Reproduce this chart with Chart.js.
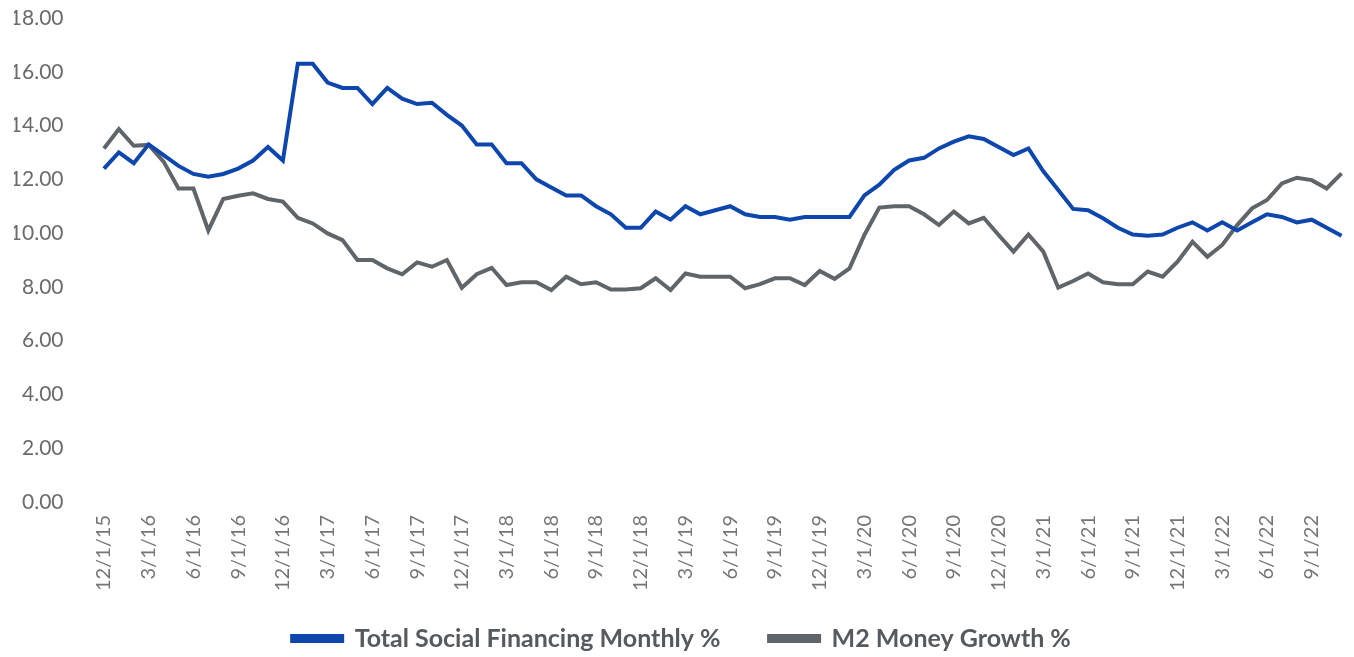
<!DOCTYPE html>
<html>
<head>
<meta charset="utf-8">
<script src="https://cdn.jsdelivr.net/npm/chart.js@4/dist/chart.umd.min.js"></script>
<style>
  html, body { margin: 0; padding: 0; background: #fff; }
  #wrap { width: 1354px; height: 657px; }
</style>
</head>
<body>
<div id="wrap"><canvas id="myChart"></canvas></div>
<script>
// monthly, 12/1/15 .. 11/1/22
const months = [
  '12/1/15',
  '1/1/16','2/1/16','3/1/16','4/1/16','5/1/16','6/1/16','7/1/16','8/1/16','9/1/16','10/1/16','11/1/16','12/1/16',
  '1/1/17','2/1/17','3/1/17','4/1/17','5/1/17','6/1/17','7/1/17','8/1/17','9/1/17','10/1/17','11/1/17','12/1/17',
  '1/1/18','2/1/18','3/1/18','4/1/18','5/1/18','6/1/18','7/1/18','8/1/18','9/1/18','10/1/18','11/1/18','12/1/18',
  '1/1/19','2/1/19','3/1/19','4/1/19','5/1/19','6/1/19','7/1/19','8/1/19','9/1/19','10/1/19','11/1/19','12/1/19',
  '1/1/20','2/1/20','3/1/20','4/1/20','5/1/20','6/1/20','7/1/20','8/1/20','9/1/20','10/1/20','11/1/20','12/1/20',
  '1/1/21','2/1/21','3/1/21','4/1/21','5/1/21','6/1/21','7/1/21','8/1/21','9/1/21','10/1/21','11/1/21','12/1/21',
  '1/1/22','2/1/22','3/1/22','4/1/22','5/1/22','6/1/22','7/1/22','8/1/22','9/1/22','10/1/22','11/1/22'
];

const tsfMonthly = [
  12.4, 13.0, 12.6, 13.3, 12.9, 12.5, 12.2, 12.1, 12.2, 12.4, 12.7, 13.2, 12.7,
  16.3, 16.3, 15.6, 15.4, 15.4, 14.8, 15.4, 15.0, 14.8, 14.85, 14.4, 14.0, 13.3, 13.3, 12.6,
  12.6, 12.0, 11.7, 11.4, 11.4, 11.0, 10.7, 10.2, 10.2, 10.8, 10.5, 11.0, 10.7, 10.85,
  11.0, 10.7, 10.6, 10.6, 10.5, 10.6, 10.6, 10.6, 10.6, 11.4, 11.8, 12.35, 12.7, 12.8,
  13.15, 13.4, 13.6, 13.5, 13.2, 12.9, 13.15, 12.3, 11.6, 10.9, 10.85, 10.55, 10.2,
  9.95, 9.9, 9.95, 10.2, 10.4, 10.1, 10.4, 10.1, 10.4, 10.7, 10.6, 10.4, 10.5, 10.2, 9.9
];

const m2Growth = [
  13.15, 13.87, 13.25, 13.28, 12.66, 11.66, 11.66, 10.1, 11.27, 11.39, 11.48, 11.27, 11.17, 10.57,
  10.36, 9.99, 9.74, 9.0, 9.0, 8.69, 8.47, 8.91, 8.75, 9.0, 7.97, 8.47, 8.71, 8.07,
  8.17, 8.17, 7.88, 8.38, 8.1, 8.17, 7.9, 7.9, 7.95, 8.32, 7.88, 8.5, 8.38, 8.38,
  8.38, 7.95, 8.1, 8.32, 8.32, 8.07, 8.59, 8.3, 8.69, 9.93, 10.95, 11.0, 11.0, 10.7,
  10.3, 10.8, 10.36, 10.57, 9.93, 9.31, 9.95, 9.31, 7.97, 8.22, 8.5, 8.17, 8.1,
  8.1, 8.57, 8.38, 8.94, 9.68, 9.12, 9.56, 10.3, 10.92, 11.23, 11.85, 12.06, 11.97, 11.66, 12.22
];

const yTicks = [0, 2, 4, 6, 8, 10, 12, 14, 16, 18];

const blue = '#0d47ad';
const grey = '#5f6569';

const ctx = document.getElementById('myChart').getContext('2d');
const myChart = new Chart(ctx, {
  type: 'line',
  data: {
    labels: months,
    datasets: [
      {
        label: 'Total Social Financing Monthly %',
        data: tsfMonthly,
        borderColor: blue,
        backgroundColor: blue,
        borderWidth: 4,
        pointRadius: 0,
        tension: 0
      },
      {
        label: 'M2 Money Growth %',
        data: m2Growth,
        borderColor: grey,
        backgroundColor: grey,
        borderWidth: 4,
        pointRadius: 0,
        tension: 0
      }
    ]
  },
  options: {
    responsive: true,
    maintainAspectRatio: false,
    animation: false,
    layout: { padding: { top: 0, right: 5, left: 14, bottom: -4 } },
    scales: {
      x: {
        offset: true,
        grid: { display: false, drawTicks: false },
        border: { display: false },
        ticks: {
          autoSkip: false,
          maxRotation: 90,
          minRotation: 90,
          padding: 13,
          color: '#757575',
          font: { family: 'Lato', size: 20 },
          callback: function (val, i) { return i % 3 === 0 ? months[i] : null; }
        },
        afterFit: function (scale) { scale.height = 116; }
      },
      y: {
        min: yTicks[0],
        max: yTicks[yTicks.length - 1],
        grid: { display: false, drawTicks: false },
        border: { display: false },
        afterBuildTicks: function (axis) { axis.ticks = yTicks.map(v => ({ value: v })); },
        afterFit: function (scale) {
          scale.width = 82.5;
          scale.paddingTop = 18;
          scale.paddingBottom = 0;
        },
        ticks: {
          padding: 33,
          color: '#6b6b6b',
          font: { family: 'Lato', size: 21 },
          callback: function (v) { return Number(v).toFixed(2); }
        }
      }
    },
    plugins: {
      legend: {
        position: 'bottom',
        labels: {
          boxWidth: 50,
          boxHeight: 5,
          padding: 8,
          color: '#555a5e',
          font: { family: 'Lato', size: 25, weight: 'bold' },
          generateLabels: function (chart) {
            const items = Chart.defaults.plugins.legend.labels.generateLabels(chart);
            items[0].text += '\u2003\u2003\u2009';
            return items;
          }
        }
      },
      tooltip: { enabled: false }
    }
  }
});
</script>
</body>
</html>
